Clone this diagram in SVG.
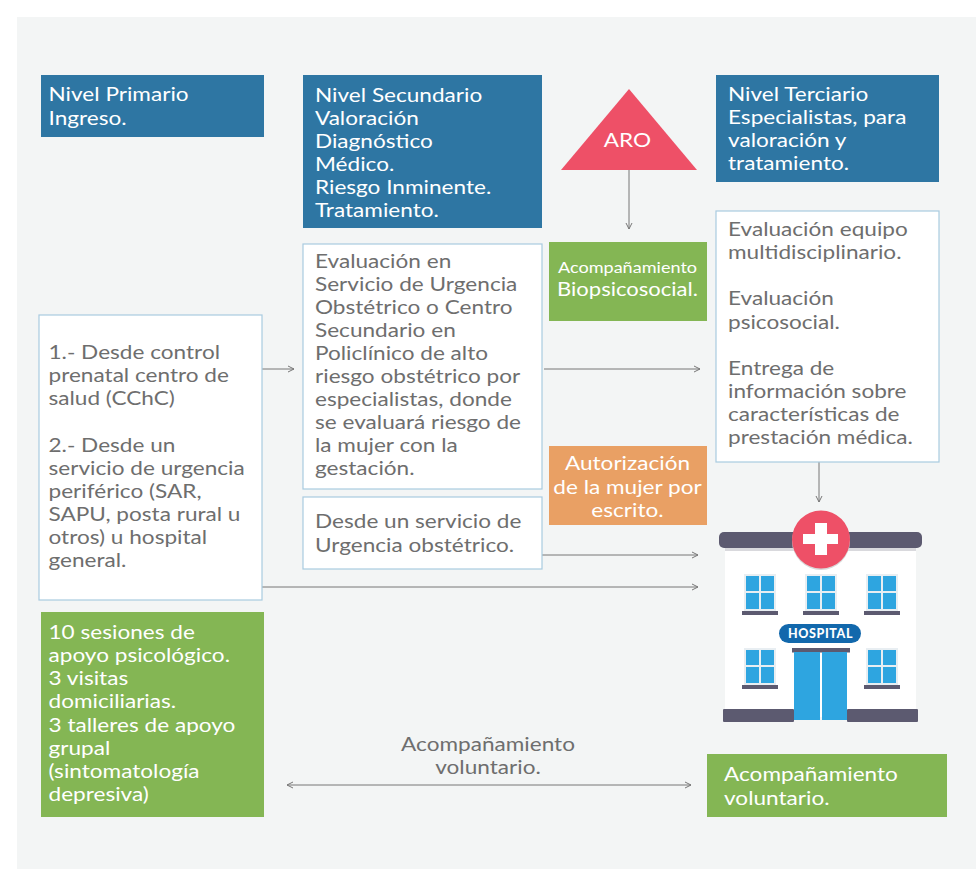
<svg xmlns="http://www.w3.org/2000/svg" width="980" height="887" viewBox="0 0 980 887">
<defs>
<marker id="a" markerWidth="10" markerHeight="10" refX="8" refY="4" orient="auto-start-reverse" markerUnits="userSpaceOnUse"><path d="M2 1L8 4L2 7" fill="none" stroke="#777" stroke-width="1"/></marker>
<g id="win"><rect x="-2" y="-2" width="32" height="37" fill="#e8eef2"/><rect width="13" height="15" fill="#2ea5e0"/><rect x="15" width="13" height="15" fill="#2ea5e0"/><rect y="17" width="13" height="16" fill="#2ea5e0"/><rect x="15" y="17" width="13" height="16" fill="#2ea5e0"/><rect x="-4" y="35" width="36" height="4" fill="#5c5a70"/></g>
</defs>
<style>
text{font-family:Lato,"Open Sans",sans-serif;font-size:20px}
.w{fill:#fff}.d{fill:#6e6e6e}
.m{text-anchor:middle}
.b{fill:#2e76a3}.g{fill:#84b654}.o{fill:#e9a064}
.n{fill:#fff;stroke:#a9cbe0;stroke-width:1.2}
.c{fill:none;stroke:#777;stroke-width:1;marker-end:url(#a)}
</style>
<rect width="980" height="887" fill="#fff"/>
<rect x="17" y="17" width="959" height="852" fill="#f3f5f5"/>

<g id="connectors">
<path class="c" d="M262 369H294"/>
<path class="c" d="M544 369H700"/>
<path class="c" d="M629 170V229"/>
<path class="c" d="M819 462V502"/>
<path class="c" d="M542 555H698"/>
<path class="c" d="M262 587H698"/>
<path class="c" d="M287 785H691" style="marker-start:url(#a)"/>
</g>

<g id="n1"><rect class="b" x="41" y="75" width="223" height="62"/>
<g class="w" transform="translate(48.500 0) scale(1.13 1)"><text y="101">Nivel Primario</text><text y="125">Ingreso.</text></g></g>

<g id="n2"><rect class="b" x="303" y="75" width="239" height="153"/>
<g class="w" transform="translate(315 0) scale(1.13 1)"><text y="102">Nivel Secundario</text><text y="125">Valoración</text><text y="148">Diagnóstico</text><text y="171">Médico.</text><text y="194">Riesgo Inminente.</text><text y="217">Tratamiento.</text></g></g>

<g id="n3"><path d="M629 89L697 170H561Z" fill="#ee5067"/>
<g class="w m" transform="translate(627.500 0) scale(1.13 1)"><text y="147">ARO</text></g></g>

<g id="n4"><rect class="b" x="716" y="75" width="223" height="107"/>
<g class="w" transform="translate(728 0) scale(1.13 1)"><text y="101">Nivel Terciario</text><text y="124">Especialistas, para</text><text y="147">valoración y</text><text y="170">tratamiento.</text></g></g>

<g id="n5"><rect class="n" x="303" y="244" width="239" height="245"/>
<g class="d" transform="translate(315 0) scale(1.13 1)"><text y="268">Evaluación en</text><text y="291">Servicio de Urgencia</text><text y="314">Obstétrico o Centro</text><text y="337">Secundario en</text><text y="360">Policlínico de alto</text><text y="383">riesgo obstétrico por</text><text y="406">especialistas, donde</text><text y="429">se evaluará riesgo de</text><text y="452">la mujer con la</text><text y="475">gestación.</text></g></g>

<g id="n6"><rect class="g" x="549" y="242" width="158" height="79"/>
<g class="w m" transform="translate(627.500 0) scale(1.13 1)"><text y="273" style="font-size:16px">Acompañamiento</text><text y="296" style="font-size:19.500px">Biopsicosocial.</text></g></g>

<g id="n7"><rect class="n" x="716" y="211" width="223" height="251"/>
<g class="d" transform="translate(728 0) scale(1.13 1)"><text y="236">Evaluación equipo</text><text y="259">multidisciplinario.</text><text y="305">Evaluación</text><text y="329">psicosocial.</text><text y="375">Entrega de</text><text y="398">información sobre</text><text y="421">características de</text><text y="444">prestación médica.</text></g></g>

<g id="n8"><rect class="n" x="39" y="315" width="223" height="285"/>
<g class="d" transform="translate(48.500 0) scale(1.13 1)"><text y="359">1.- Desde control</text><text y="382">prenatal centro de</text><text y="405">salud (CChC)</text><text y="452">2.- Desde un</text><text y="475">servicio de urgencia</text><text y="498">periférico (SAR,</text><text y="521">SAPU, posta rural u</text><text y="544">otros) u hospital</text><text y="567">general.</text></g></g>

<g id="n9"><rect class="o" x="549" y="446" width="158" height="79"/>
<g class="w m" transform="translate(627.500 0) scale(1.13 1)"><text y="470">Autorización</text><text y="494">de la mujer por</text><text y="517">escrito.</text></g></g>

<g id="n10"><rect class="n" x="303" y="497" width="239" height="72"/>
<g class="d" transform="translate(315 0) scale(1.13 1)"><text y="528">Desde un servicio de</text><text y="552">Urgencia obstétrico.</text></g></g>

<g id="n11"><rect class="g" x="41" y="612" width="223" height="205"/>
<g class="w" transform="translate(48.500 0) scale(1.13 1)"><text y="639">10 sesiones de</text><text y="662">apoyo psicológico.</text><text y="685">3 visitas</text><text y="708">domiciliarias.</text><text y="732">3 talleres de apoyo</text><text y="755">grupal</text><text y="778">(sintomatología</text><text y="801">depresiva)</text></g></g>

<g id="n12"><g class="d m" transform="translate(488 0) scale(1.13 1)"><text y="751">Acompañamiento</text><text y="774">voluntario.</text></g></g>

<g id="n13"><rect class="g" x="707" y="754" width="240" height="63"/>
<g class="w" transform="translate(724 0) scale(1.13 1)"><text y="781">Acompañamiento</text><text y="805">voluntario.</text></g></g>

<g id="hospital">
<rect x="725" y="548" width="191" height="169" fill="#fff"/>
<rect x="725" y="548" width="191" height="3" fill="#d9d9dd"/>
<rect x="719" y="532" width="203" height="16" rx="5" fill="#5c5a70"/>
<circle cx="821" cy="541" r="29" fill="#d8d8d8"/>
<circle cx="821" cy="539.500" r="29" fill="#ee5067"/>
<path d="M815 523H827V534H838V544H827V555H815V544H803V534H815Z" fill="#fff"/>
<use href="#win" x="746" y="576"/><use href="#win" x="807" y="576"/><use href="#win" x="868" y="576"/>
<use href="#win" x="746" y="650"/><use href="#win" x="868" y="650"/>
<rect x="723" y="709" width="71" height="13" rx="1" fill="#5c5a70"/>
<rect x="847" y="709" width="71" height="13" rx="1" fill="#5c5a70"/>
<rect x="792" y="648" width="58" height="4.500" fill="#5c5a70"/>
<rect x="794" y="652" width="26" height="68" fill="#2ea5e0"/>
<rect x="822" y="652" width="25" height="68" fill="#2ea5e0"/>
<rect x="779" y="624" width="82" height="19" rx="9.500" fill="#1268ac"/>
<text class="w m" x="820.500" y="638" style="font-size:12.500px;font-weight:900;letter-spacing:.6px">HOSPITAL</text>
</g>
</svg>
